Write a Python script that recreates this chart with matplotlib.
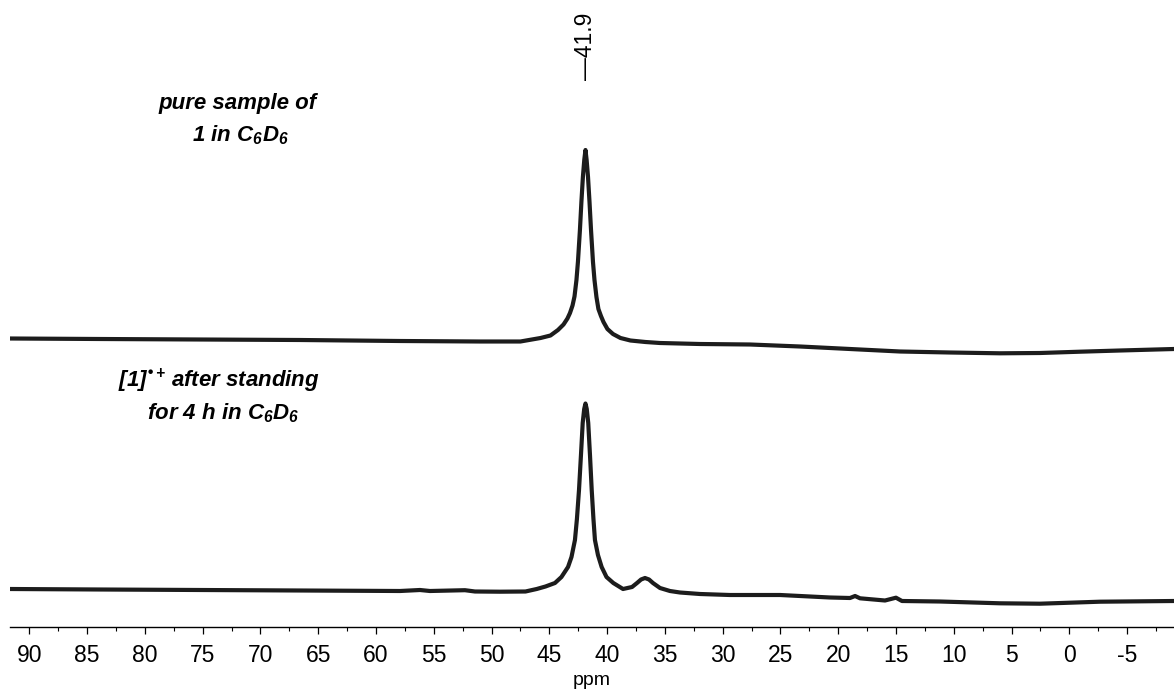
import matplotlib

matplotlib.use("Agg")
import matplotlib.pyplot as plt
from matplotlib.ticker import MultipleLocator

# chemical shift (ppm) and trace height of the two spectra
top_ppm = [91.67, 83.88, 75.23, 66.57, 57.92, 51.0, 47.5,
           45.76, 44.90, 44.25, 43.77, 43.43, 43.21, 42.99, 42.82, 42.65, 42.52,
           42.35, 42.22, 42.09, 41.97, 41.87, 41.77, 41.65, 41.52, 41.39, 41.22,
           41.09, 40.92, 40.75, 40.53, 40.31, 39.97, 39.49, 38.84, 37.98, 36.68,
           35.42, 31.96, 27.63, 23.30, 18.98, 14.65, 10.33, 6.0, 2.54, -0.93,
           -4.39, -9.06]
top_int = [288.5, 288.0, 287.5, 287.0, 286.0, 285.5, 285.5,
           289.0, 291.5, 297.0, 302.5, 308.5, 314.0, 321.5, 330.5, 347.0, 365.5,
           397.0, 425.5, 450.5, 467.5, 477.0, 467.0, 450.0, 425.0, 397.0, 365.0,
           347.0, 330.0, 318.0, 311.0, 305.0, 298.0, 293.0, 289.0, 286.5, 285.0,
           284.0, 283.0, 282.5, 280.5, 278.0, 275.5, 274.5, 273.7, 274.0, 275.3,
           276.5, 278.0]

bottom_ppm = [91.67, 83.88, 75.23, 66.57, 57.92, 56.19, 55.33, 52.30, 51.43, 49.27,
              47.06, 46.09, 45.33, 44.51, 43.95, 43.38, 43.08, 42.78, 42.61, 42.43,
              42.26, 42.11, 41.98, 41.87, 41.76, 41.63, 41.48, 41.33, 41.18, 41.05,
              40.79, 40.47, 40.05, 39.46, 38.62, 37.84, 37.41, 37.06, 36.72, 36.37,
              36.03, 35.42, 34.56, 33.69, 31.96, 29.37, 25.03, 20.71, 18.98, 18.54,
              18.11, 15.95, 15.0, 14.48, 11.19, 6.0, 2.54, -2.66, -9.06]
bottom_int = [38.0, 37.5, 37.0, 36.5, 36.0, 37.0, 36.0, 36.8, 35.5, 35.3,
              35.5, 38.0, 40.5, 44.0, 50.0, 60.0, 70.0, 87.0, 108.0, 137.0,
              172.0, 204.0, 218.0, 223.5, 218.0, 204.0, 172.0, 137.0, 108.0, 87.0,
              72.0, 60.0, 50.0, 44.0, 38.0, 40.0, 44.0, 47.5, 49.0, 47.5,
              44.0, 39.0, 36.0, 34.5, 33.0, 32.0, 32.0, 29.5, 29.0, 31.0,
              28.7, 26.5, 29.3, 26.0, 25.5, 23.7, 23.3, 25.3, 26.0]

peak_label = "—41.9"
top_caption = ["pure sample of", "1 in C$_6$D$_6$"]
bottom_caption = ["[1]$^{•{+}}$ after standing", "for 4 h in C$_6$D$_6$"]

plt.rcParams["font.family"] = ["Liberation Sans", "DejaVu Sans"]
plt.rcParams["mathtext.default"] = "regular"
plt.rcParams["axes.unicode_minus"] = False

fig = plt.figure(figsize=(11.74, 6.9), dpi=100)
ax = fig.add_axes([10 / 1174, 63 / 690, 1164 / 1174, 627 / 690])

line_style = dict(color="#1c1c1c", linewidth=3.0, solid_joinstyle="round")
ax.plot(top_ppm, top_int, **line_style)
ax.plot(bottom_ppm, bottom_int, **line_style)

ax.set_xlim(91.67, -9.06)
ax.set_ylim(0, 627)

for side in ("top", "right", "left"):
    ax.spines[side].set_visible(False)
ax.spines["bottom"].set_linewidth(1.0)
ax.set_yticks([])
ax.xaxis.set_major_locator(MultipleLocator(5))
ax.xaxis.set_minor_locator(MultipleLocator(2.5))
ax.tick_params(axis="x", which="major", length=5, width=0.9, pad=7.5, labelsize=16.5)
ax.tick_params(axis="x", which="minor", length=3, width=0.8)
ax.set_xlabel("ppm", fontsize=14, labelpad=3)

ax.text(41.9, 547, peak_label, rotation=90, ha="center", va="bottom", fontsize=16.5)

caption_style = dict(fontsize=16, fontweight="bold", fontstyle="italic", ha="center", va="center")
ax.text(72.0, 524, top_caption[0], **caption_style)
ax.text(71.7, 492, top_caption[1], **caption_style)
ax.text(73.6, 246, bottom_caption[0], **caption_style)
ax.text(73.2, 214, bottom_caption[1], **caption_style)

fig.savefig("out.png", dpi=100)
